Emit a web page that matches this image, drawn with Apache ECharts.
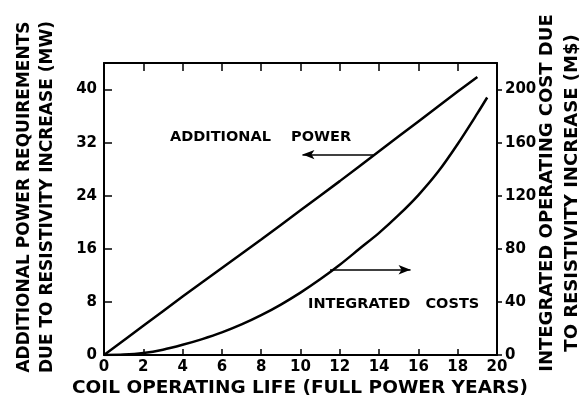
<!DOCTYPE html>
<html>
<head>
<meta charset="utf-8">
<script src="https://cdn.jsdelivr.net/npm/echarts@6/dist/echarts.min.js"></script>
<style>
  html, body { margin: 0; padding: 0; background: #fff; }
  #chart { width: 585px; height: 405px; }
</style>
</head>
<body>
<div id="chart"></div>
<script>
// additional power (MW), left axis
const powerYears = [0, 2, 4, 6, 8, 10, 12, 14, 16, 18, 19]
const powerMW = [0, 4.4, 8.8, 13.1, 17.4, 21.8, 26.2, 30.7, 35.2, 39.7, 41.9]

// integrated costs (M$), right axis
const costYears = [0, 1, 2, 3, 4, 5, 6, 7, 8, 9, 10, 11, 12, 13, 14, 15, 16, 17, 18, 19, 19.5]
const costM = [0, 0.3, 1.5, 4, 7.7, 12, 17, 23, 30, 38, 47, 57, 68, 80, 92, 105.5, 120.5, 138, 159, 182, 194]

// arrows: [fromYear, toYear, level]
const powerArrow = [13.7, 10.1, 30.2]
const costArrow = [11.5, 15.6, 64.2]

const font = 'DejaVu Sans'
const black = '#000'

function pairs(xs, ys) {
  return xs.map((x, i) => [x, ys[i]])
}

const chart = echarts.init(document.getElementById('chart'), null, { renderer: 'canvas' })

const labelStyle = {
  color: black,
  fontFamily: font,
  fontWeight: 'bold',
  fontSize: 15
}

chart.setOption({
  animation: false,
  backgroundColor: '#fff',
  grid: { left: 104, right: 88, top: 63, bottom: 50 },
  xAxis: [{
    type: 'value',
    position: 'bottom',
    min: 0,
    max: 20,
    interval: 2,
    splitLine: { show: false },
    axisLine: { onZero: false, lineStyle: { color: black, width: 2 } },
    axisTick: { inside: true, length: 6, lineStyle: { color: black, width: 1.5 } },
    axisLabel: Object.assign({ margin: 5 }, labelStyle)
  }, {
    type: 'value',
    position: 'top',
    min: 0,
    max: 20,
    interval: 2,
    splitLine: { show: false },
    axisLine: { onZero: false, lineStyle: { color: black, width: 2 } },
    axisTick: { inside: true, length: 8, lineStyle: { color: black, width: 1.5 } },
    axisLabel: { show: false }
  }],
  yAxis: [{
    type: 'value',
    position: 'left',
    min: 0,
    max: 44,
    interval: 8,
    splitLine: { show: false },
    axisLine: { show: true, onZero: false, lineStyle: { color: black, width: 2 } },
    axisTick: { show: true, inside: true, length: 8, lineStyle: { color: black, width: 1.5 } },
    axisLabel: Object.assign({ margin: 7, showMaxLabel: false }, labelStyle)
  }, {
    type: 'value',
    position: 'right',
    min: 0,
    max: 220,
    interval: 40,
    splitLine: { show: false },
    axisLine: { show: true, onZero: false, lineStyle: { color: black, width: 2 } },
    axisTick: { show: true, inside: false, length: 5, lineStyle: { color: black, width: 1.5 } },
    axisLabel: Object.assign({ margin: 8, showMaxLabel: false }, labelStyle)
  }],
  series: [{
    name: 'ADDITIONAL POWER',
    type: 'line',
    xAxisIndex: 0,
    yAxisIndex: 0,
    smooth: 0.3,
    showSymbol: false,
    lineStyle: { color: black, width: 2.5 },
    data: pairs(powerYears, powerMW),
    markLine: {
      silent: true,
      symbol: ['none', 'arrow'],
      symbolSize: [7, 12],
      label: { show: false },
      lineStyle: { color: black, width: 1.5, type: 'solid' },
      data: [[
        { coord: [powerArrow[0], powerArrow[2]] },
        { coord: [powerArrow[1], powerArrow[2]] }
      ]]
    }
  }, {
    name: 'INTEGRATED COSTS',
    type: 'line',
    xAxisIndex: 0,
    yAxisIndex: 1,
    smooth: 0.3,
    showSymbol: false,
    lineStyle: { color: black, width: 2.5 },
    data: pairs(costYears, costM),
    markLine: {
      silent: true,
      symbol: ['none', 'arrow'],
      symbolSize: [7, 12],
      label: { show: false },
      lineStyle: { color: black, width: 1.5, type: 'solid' },
      data: [[
        { coord: [costArrow[0], costArrow[2]] },
        { coord: [costArrow[1], costArrow[2]] }
      ]]
    }
  }],
  graphic: [{
    type: 'text',
    left: 170,
    top: 130,
    style: { text: 'ADDITIONAL    POWER', fill: black, font: 'bold 14.5px "DejaVu Sans"' }
  }, {
    type: 'text',
    left: 308,
    top: 297,
    style: { text: 'INTEGRATED   COSTS', fill: black, font: 'bold 14.5px "DejaVu Sans"' }
  }, {
    type: 'text',
    x: 36,
    y: 197,
    rotation: Math.PI / 2,
    style: {
      text: 'ADDITIONAL POWER REQUIREMENTS\nDUE TO RESISTIVITY INCREASE (MW)',
      fill: black,
      font: 'bold 17px "DejaVu Sans"',
      lineHeight: 23,
      align: 'center',
      verticalAlign: 'middle'
    }
  }, {
    type: 'text',
    x: 560,
    y: 193,
    rotation: Math.PI / 2,
    style: {
      text: 'INTEGRATED OPERATING COST DUE\nTO RESISTIVITY INCREASE (M$)',
      fill: black,
      font: 'bold 18px "DejaVu Sans"',
      lineHeight: 25,
      align: 'center',
      verticalAlign: 'middle'
    }
  }, {
    type: 'text',
    x: 300,
    y: 388,
    style: {
      text: 'COIL OPERATING LIFE (FULL POWER YEARS)',
      fill: black,
      font: 'bold 18.5px "DejaVu Sans"',
      align: 'center',
      verticalAlign: 'middle'
    }
  }]
})
</script>
</body>
</html>
